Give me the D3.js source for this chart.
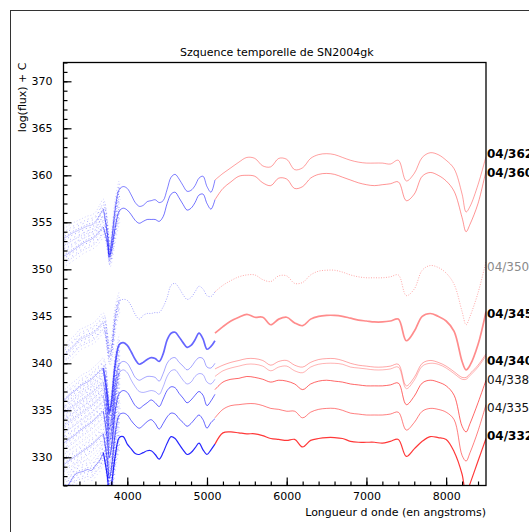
<!DOCTYPE html>
<html><head><meta charset="utf-8">
<script src="https://cdn.jsdelivr.net/npm/d3@7"></script>
<style>body{margin:0;background:#fff;} svg{display:block;}</style>
</head><body>
<svg id="c" width="529" height="532"></svg>
<script>
// ---------- data ----------
const blueWave = [3200,3250,3300,3350,3400,3450,3500,3550,3600,3650,3700,3750,3775,3800,3850,3900,3950,4000,4050,4100,4150,4200,4250,4300,4350,4400,4450,4500,4550,4600,4650,4700,4750,4800,4850,4900,4950,5000,5050,5100];
const redWave = [5100,5200,5300,5400,5500,5600,5700,5800,5900,6000,6100,6200,6300,6400,6500,6600,6700,6800,6900,7000,7100,7200,7300,7400,7500,7600,7700,7800,7900,8000,8100,8200,8250,8300,8400,8500];

const s362Blue = [353.3,353.5,353.8,354.0,354.2,354.4,354.6,354.7,355.0,355.7,356.4,353.8,351.5,352.8,356.5,358.5,358.8,358.6,357.9,357.1,356.7,356.8,357.2,357.3,357.4,357.1,357.3,358.5,359.8,360.1,359.6,358.9,358.3,358.4,358.9,359.7,359.9,358.8,358.2,359.5];
const s362Red = [359.5,360.2,360.8,361.4,361.9,361.8,361.0,360.9,361.8,361.7,360.6,360.8,361.8,362.2,362.3,362.2,361.9,361.6,361.4,361.3,361.3,361.3,361.2,361.6,359.4,360.2,361.9,362.4,362.2,361.6,360.7,358.0,356.1,356.7,359.0,362.0];

const s360Blue = [351.4,351.6,351.9,352.2,352.5,352.8,353.0,353.2,353.5,354.0,354.5,352.8,351.3,352.0,354.5,356.2,356.5,356.3,355.8,355.2,354.9,355.1,355.3,355.3,355.3,355.1,355.6,357.0,358.0,358.2,357.6,356.9,356.3,356.5,357.1,357.9,358.0,357.0,356.4,357.4];
const s360Red = [357.4,358.6,359.3,359.9,360.0,359.9,359.2,358.9,359.7,359.6,358.6,358.8,359.7,360.1,360.2,360.1,359.8,359.5,359.2,359.0,358.9,359.0,359.1,359.3,357.3,358.0,359.9,360.3,360.0,359.4,358.3,355.5,354.0,354.8,357.0,360.5];

const s350Blue = [340.8,341.2,341.6,342.0,342.5,342.7,342.9,343.1,343.4,343.9,344.3,342.0,340.8,341.5,345.0,346.6,346.8,346.7,346.1,345.2,344.7,345.1,345.3,345.3,345.4,345.4,346.0,347.0,348.3,348.5,348.0,347.3,346.8,347.0,347.6,348.2,347.9,347.2,347.1,347.6];
const s350Red = [347.6,348.3,348.8,349.2,349.4,349.4,348.9,348.7,349.3,349.3,348.5,348.6,349.4,349.8,349.9,349.9,349.7,349.4,349.2,349.1,349.1,349.1,349.2,349.4,347.2,347.9,349.9,350.4,350.2,349.6,348.4,345.5,344.1,345.0,347.5,350.8];

const s345Blue = [336.0,336.4,336.8,337.1,337.5,337.8,338.0,338.3,338.7,339.1,339.5,336.5,334.7,335.8,340.0,342.0,342.2,341.9,341.2,340.4,339.9,340.1,340.4,340.6,340.5,340.2,341.0,342.5,343.2,343.3,342.8,342.2,341.7,341.9,342.5,343.2,342.6,341.5,341.8,342.4];
const s345Red = [343.2,343.9,344.5,344.9,345.2,344.9,344.9,344.1,344.7,344.9,344.3,344.0,344.7,345.0,345.1,345.1,345.0,344.8,344.6,344.5,344.4,344.4,344.5,344.7,342.4,343.4,345.0,345.3,345.0,344.5,343.4,340.2,339.3,339.8,342.0,345.5];

const s340aBlue = [334.7,335.0,335.3,335.6,335.9,336.2,336.5,336.8,337.2,337.6,338.0,335.0,333.0,334.0,338.0,339.9,340.2,340.0,339.3,338.5,338.2,338.4,338.6,338.6,338.5,338.1,338.9,340.0,340.5,340.6,340.1,339.7,339.3,339.6,340.2,340.6,340.5,339.6,339.5,340.0];
const s340aRed = [339.4,339.8,340.1,340.3,340.5,340.5,340.3,339.8,340.2,340.3,339.8,339.6,340.1,340.4,340.5,340.5,340.3,340.0,339.8,339.7,339.6,339.6,339.7,339.9,337.6,338.5,340.0,340.3,340.1,339.7,339.1,338.5,338.5,338.9,339.8,341.0];
const s340bBlue = [333.3,333.6,333.9,334.2,334.5,334.8,335.1,335.4,335.8,336.2,336.6,333.6,331.7,332.7,336.8,339.0,339.3,339.0,338.2,337.5,337.0,336.9,337.0,337.1,337.0,336.7,337.5,338.6,339.2,339.3,338.8,338.2,337.8,338.0,338.6,338.9,338.8,338.0,337.8,338.3];
const s340bRed = [338.6,339.2,339.5,339.7,339.9,339.9,339.7,339.2,339.6,339.7,339.2,339.0,339.6,339.9,340.0,340.0,339.9,339.6,339.5,339.4,339.3,339.3,339.4,339.6,337.3,338.2,339.7,340.0,339.9,339.5,338.9,338.3,338.3,338.7,339.6,340.8];

const s338Blue = [331.5,331.8,332.1,332.4,332.8,333.1,333.4,333.7,334.1,334.5,334.9,332.0,330.0,331.0,335.0,336.8,337.1,336.9,336.2,335.5,335.2,335.5,335.8,336.1,335.8,335.4,336.2,337.1,337.5,337.4,336.8,336.3,335.8,336.1,336.6,337.0,336.6,335.5,336.0,336.7];
const s338Red = [337.2,338.0,338.3,338.4,338.6,338.5,338.3,338.0,338.2,338.1,337.8,337.2,337.8,338.1,338.2,338.1,338.0,337.8,337.7,337.6,337.6,337.6,337.7,337.9,335.6,336.5,337.9,338.2,338.0,337.6,336.6,333.3,332.7,333.6,335.8,338.2];

const s335Blue = [329.2,329.5,329.8,330.1,330.4,330.7,331.0,331.3,331.7,332.1,332.5,329.7,327.8,328.8,332.6,334.5,334.7,334.5,333.9,333.4,333.1,333.4,333.8,334.0,333.6,333.0,333.6,334.3,334.7,334.6,334.1,333.7,333.3,333.6,334.1,334.5,334.0,333.1,333.7,334.1];
const s335Red = [334.2,335.1,335.5,335.6,335.7,335.7,335.5,335.2,335.1,334.9,334.9,334.2,334.8,335.1,335.2,335.2,335.0,334.7,334.6,334.5,334.5,334.5,334.6,334.8,332.9,333.7,334.9,335.2,335.1,334.8,334.0,330.2,329.6,330.5,332.8,335.6];

const s332Blue = [326.3,326.9,327.6,328.2,328.4,328.5,328.7,328.6,329.1,329.6,330.5,328.0,326.0,327.0,330.2,332.1,332.2,331.4,330.9,330.4,330.3,330.5,330.7,330.7,330.3,329.8,330.5,331.5,332.2,332.0,331.4,330.8,330.3,330.5,331.0,331.5,330.8,330.3,330.8,331.4];
const s332Red = [331.4,332.6,332.7,332.6,332.5,332.5,332.3,332.0,331.9,331.8,331.9,331.1,331.8,332.0,332.1,332.1,332.0,331.7,331.6,331.6,331.6,331.5,331.7,331.9,330.1,330.9,331.7,332.2,332.1,331.9,330.6,328.2,326.0,327.2,329.6,332.0];

const labelNames = ["04/362","04/360","04/350","04/345","04/340","04/338","04/335","04/332"];
const labelValues = [362,360,350,345,340,338,335,332];
const yMajorTicks = [330,335,340,345,350,355,360,365,370];
const xMajorTicks = [4000,5000,6000,7000,8000];
const titleText = "Szquence temporelle de SN2004gk";
const xTitle = "Longueur d onde (en angstroms)";
const yTitle = "log(flux) + C";

const series = [
  {key:"362", blue:s362Blue, red:s362Red},
  {key:"360", blue:s360Blue, red:s360Red},
  {key:"350", blue:s350Blue, red:s350Red},
  {key:"345", blue:s345Blue, red:s345Red},
  {key:"340a", blue:s340aBlue, red:s340aRed},
  {key:"340b", blue:s340bBlue, red:s340bRed},
  {key:"338", blue:s338Blue, red:s338Red},
  {key:"335", blue:s335Blue, red:s335Red},
  {key:"332", blue:s332Blue, red:s332Red}
];

// ---------- styles (kept separate from data) ----------
const lineStyle = {
  "362": {bo:0.5, ro:0.38, w:1.0},
  "360": {bo:0.55, ro:0.42, w:1.0},
  "350": {bo:0.35, ro:0.35, w:1.0, dash:"1 1.5"},
  "345": {bo:0.6, ro:0.45, w:1.7},
  "340a": {bo:0.35, ro:0.35, w:1.0},
  "340b": {bo:0.3, ro:0.3, w:1.0},
  "338": {bo:0.6, ro:0.6, w:1.0},
  "335": {bo:0.6, ro:0.5, w:1.0},
  "332": {bo:0.85, ro:0.78, w:1.2}
};
const labelStyle = [
  {c:"#000", fw:"bold"},{c:"#000", fw:"bold"},{c:"#8a8a8a", fw:"normal"},{c:"#000", fw:"bold"},
  {c:"#000", fw:"bold"},{c:"#111", fw:"normal"},{c:"#111", fw:"normal"},{c:"#000", fw:"bold"}
];
const scatterOffsets = [-10,-7,-4.5,-2,2,4.5,7,10];

// ---------- drawing ----------
const svg = d3.select("#c");
const L = 63.5, R = 486, T = 62.5, B = 485.5;
const x = d3.scaleLinear().domain([3200, 8500]).range([L, R]);
const y = d3.scaleLinear().domain([327, 372]).range([B, T]);

svg.append("rect").attr("x",10.5).attr("y",10.5).attr("width",700).attr("height",700)
  .attr("fill","none").attr("stroke","#333").attr("stroke-width",1);

svg.append("defs").append("clipPath").attr("id","clip")
  .append("rect").attr("x",L).attr("y",T).attr("width",R-L).attr("height",B-T);

const plot = svg.append("g").attr("clip-path","url(#clip)");
const line = d3.line().x(d=>x(d[0])).y(d=>y(d[1])).curve(d3.curveCatmullRom.alpha(0.5));

series.forEach((s, si) => {
  const st = lineStyle[s.key];
  const bpts = blueWave.map((w,i)=>[w, s.blue[i]]);
  const rpts = redWave.map((w,i)=>[w, s.red[i]]);
  const uv = bpts.filter(p => p[0] <= 3900);
  // scattered, noisy dots in the UV part
  scatterOffsets.forEach((dy, k) => {
    plot.append("path").attr("d", line(uv)).attr("fill","none")
      .attr("transform", `translate(${(k%2)*0.8},${dy})`)
      .attr("stroke","rgb(40,40,255)")
      .attr("stroke-opacity", 0.5 - Math.abs(dy)*0.028)
      .attr("stroke-width",1)
      .attr("stroke-dasharray", `1 ${2 + (k % 3)}`)
      .attr("stroke-dashoffset", (k*1.7 + si*2.3).toFixed(1));
  });
  const faintBlue = bpts.filter(p => p[0] <= 3700);
  const mainBlue = bpts.filter(p => p[0] >= 3700);
  plot.append("path").attr("d", line(faintBlue)).attr("fill","none")
    .attr("stroke","rgb(0,0,255)").attr("stroke-opacity",st.bo*0.45).attr("stroke-width",1);
  plot.append("path").attr("d", line(mainBlue)).attr("fill","none")
    .attr("stroke","rgb(0,0,255)").attr("stroke-opacity",st.bo).attr("stroke-width",st.w)
    .attr("stroke-dasharray", st.dash || null);
  plot.append("path").attr("d", line(rpts)).attr("fill","none")
    .attr("stroke","rgb(255,0,0)").attr("stroke-opacity",st.ro).attr("stroke-width",st.w)
    .attr("stroke-dasharray", st.dash || null);
});

// axes
const font = "DejaVu Sans, sans-serif";
const yAxis = d3.axisLeft(y).tickValues(yMajorTicks).tickSize(-8).tickPadding(11).tickFormat(d3.format("d"));
const yMinor = d3.axisLeft(y).tickValues(d3.range(327, 373, 1)).tickSize(-4).tickFormat("");
const xAxis = d3.axisBottom(x).tickValues(xMajorTicks).tickSize(-8).tickPadding(7).tickFormat(d3.format("d"));
const xMinor = d3.axisBottom(x).tickValues(d3.range(3400, 8501, 200)).tickSize(-4).tickFormat("");

[svg.append("g").attr("transform",`translate(${L},0)`).call(yMinor),
 svg.append("g").attr("transform",`translate(${L},0)`).call(yAxis),
 svg.append("g").attr("transform",`translate(0,${B})`).call(xMinor),
 svg.append("g").attr("transform",`translate(0,${B})`).call(xAxis)].forEach(g=>{
  g.select(".domain").remove();
  g.selectAll("line").attr("stroke","#000").attr("stroke-width",1.2);
  g.selectAll("text").attr("font-family",font).attr("font-size",11).attr("fill","#000");
});

svg.append("rect").attr("x",L).attr("y",T).attr("width",R-L).attr("height",B-T)
  .attr("fill","none").attr("stroke","#000").attr("stroke-width",1.3);

// titles
svg.append("text").attr("x",(L+R)/2+2).attr("y",56).attr("text-anchor","middle")
  .attr("font-family",font).attr("font-size",11).text(titleText);
svg.append("text").attr("x",R).attr("y",516).attr("text-anchor","end")
  .attr("font-family",font).attr("font-size",11).text(xTitle);
svg.append("text").attr("transform",`translate(26,${T}) rotate(-90)`).attr("text-anchor","end")
  .attr("font-family",font).attr("font-size",11).text(yTitle);

// right-hand labels (cut at the page edge, as in the reference)
labelNames.forEach((n,i)=>{
  svg.append("text").attr("x",R+1).attr("y",y(labelValues[i])+1.5)
    .attr("font-family",font).attr("font-size",12).attr("font-weight",labelStyle[i].fw)
    .attr("fill",labelStyle[i].c).text(n);
});
</script>
</body></html>
